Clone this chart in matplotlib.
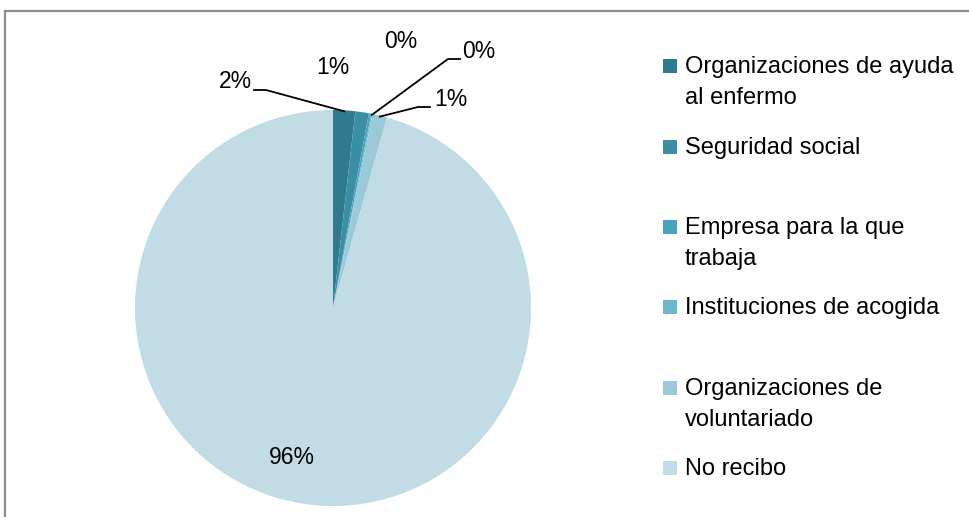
import numpy as np
import matplotlib.pyplot as plt
from matplotlib.patches import Rectangle

plt.rcParams['font.family'] = ['Liberation Sans', 'DejaVu Sans']

# Datos
categorias = ['Organizaciones de ayuda\nal enfermo', 'Seguridad social',
              'Empresa para la que\ntrabaja', 'Instituciones de acogida',
              'Organizaciones de\nvoluntariado', 'No recibo']
porcentajes = [1.8, 1.1, 0.2, 0.1, 1.2, 95.6]
colores = ['#2f7a8c', '#3a8fa4', '#47a4bc', '#6db7cb', '#9cc9d8', '#c1dce4']

W, H = 969, 517
fig = plt.figure(figsize=(W / 100, H / 100), dpi=100)
ax = fig.add_axes([0, 0, 1, 1])

# tarta en coordenadas de píxel (y hacia arriba)
cx, cy, r = 333, 308, 198
ax.pie(porcentajes, colors=colores, startangle=90, counterclock=False,
       center=(cx, H - cy), radius=r, wedgeprops=dict(linewidth=0))
ax.set_xlim(0, W)
ax.set_ylim(0, H)
ax.set_aspect('equal')
ax.axis('off')

# marco gris
ax.add_patch(Rectangle((5, -20), W + 20, H - 11 + 20, fill=False,
                       edgecolor='#8c8c8c', lw=1.6))

# etiquetas de porcentaje (posición en px) y codo de la línea guía
pos_etiquetas = [(235, 82), (333, 67), (401, 42), (479, 52), (451, 100), (292, 458)]
codo = [(254, 90), None, None, (460, 59), (430, 107), None]
acum = 0
for i, v in enumerate(porcentajes):
    medio = acum + v / 2
    acum += v
    ang = np.deg2rad(90 - medio * 3.6)
    bx, by = cx + r * np.cos(ang), cy - r * np.sin(ang)
    tx, ty = pos_etiquetas[i]
    ax.text(tx, H - ty, f'{v:.0f}%', fontsize=16.5, ha='center', va='center', color='black')
    if codo[i] is not None:
        ex, ey = codo[i]
        paso = 12 if ex < bx else -12
        ax.plot([ex, ex + paso, bx], [H - ey, H - ey, H - by - 1], color='black', lw=1.3)

# leyenda
filas = [66, 147, 227, 307, 388, 468]
for cat, col, y in zip(categorias, colores, filas):
    ax.add_patch(Rectangle((663, H - y - 7), 14, 14, facecolor=col, edgecolor='none'))
    ax.text(685, H - y + 10, cat, fontsize=17, ha='left', va='top', linespacing=1.55,
            color='black')

fig.savefig('out.png', dpi=100)
